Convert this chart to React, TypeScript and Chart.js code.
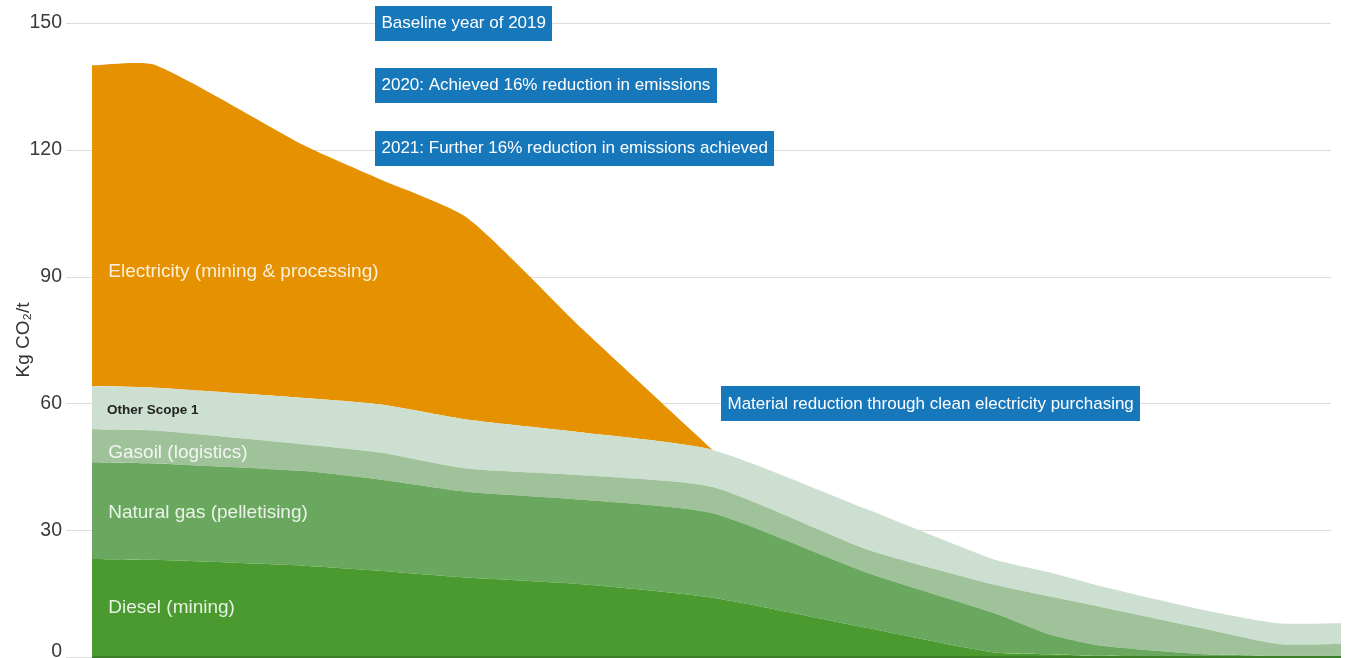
import { useEffect, useRef } from 'react';
import { Chart, registerables } from 'chart.js';

Chart.register(...registerables);

// Timeline positions (0 = 2019 baseline, 100 = end of pathway)
const timeline = [0, 5, 17, 23, 30, 39.3, 49.7, 62, 72.1, 76.7, 80.7, 88.7, 94.9, 100];

// Stacked emission components, Kg CO2/t
const diesel = [23.2, 23.0, 21.6, 20.4, 18.8, 17.2, 14.0, 6.9, 1.1, 0.6, 0.3, 0, 0, 0];
const naturalGas = [22.9, 22.8, 22.4, 21.6, 20.3, 20.0, 20.0, 13.1, 9.4, 4.7, 2.4, 0.7, 0.3, 0.3];
const gasoil = [7.8, 7.8, 6.3, 6.4, 5.5, 5.8, 6.2, 5.5, 6.7, 9.0, 9.2, 6.2, 2.8, 2.8];
const otherScope1 = [10.2, 10.1, 11.0, 11.4, 11.6, 10.1, 8.8, 9.5, 6.0, 5.7, 4.9, 4.4, 4.9, 4.9];
const electricity = [75.9, 76.4, 59.7, 53.3, 47.8, 24.4, 0, null, null, null, null, null, null, null];

const seriesNames = ['Diesel (mining)', 'Natural gas (pelletising)', 'Gasoil (logistics)', 'Other Scope 1', 'Electricity (mining & processing)'];
const seriesColors = ['#4a9a30', '#6aa85f', '#a0c29a', '#cddfd0', '#e69100'];

// In-chart series labels (timeline x, value y)
const seriesLabelX = [1.3, 1.3, 1.3, 1.2, 1.3];
const seriesLabelY = [12.1, 34.4, 48.6, 58.7, 91.4];

const yTicks = [0, 30, 60, 90, 120, 150];

// Annotation notes (timeline x of left edge, value y of centre)
const noteTexts = [
  'Baseline year of 2019',
  '2020: Achieved 16% reduction in emissions',
  '2021: Further 16% reduction in emissions achieved',
  'Material reduction through clean electricity purchasing',
];
const noteX = [22.66, 22.66, 22.66, 50.36];
const noteY = [150, 135.3, 120.4, 60];

const FONT = '"Liberation Sans", Arial, Helvetica, sans-serif';

export default function App() {
  const ref = useRef<HTMLCanvasElement | null>(null);

  useEffect(() => {
    if (!ref.current) return;
    const xMin = -(26 / 1249) * 100;

    const overlay = {
      id: 'overlay',
      beforeDatasetsDraw(chart: any) {
        const { ctx, chartArea, scales } = chart;
        const y = scales.y;
        ctx.save();
        ctx.strokeStyle = '#dcdcdc';
        ctx.lineWidth = 1;
        yTicks.forEach((v) => {
          const py = Math.round(y.getPixelForValue(v)) + 0.5;
          ctx.beginPath();
          ctx.moveTo(chartArea.left, py);
          ctx.lineTo(chartArea.right - 10, py);
          ctx.stroke();
        });
        ctx.restore();
      },
      afterDatasetsDraw(chart: any) {
        const { ctx, scales } = chart;
        const x = scales.x;
        const y = scales.y;
        ctx.save();
        // baseline
        ctx.strokeStyle = '#3c7f2b';
        ctx.lineWidth = 2;
        ctx.beginPath();
        ctx.moveTo(x.getPixelForValue(timeline[0]), y.getPixelForValue(0));
        ctx.lineTo(x.getPixelForValue(timeline[timeline.length - 1]), y.getPixelForValue(0));
        ctx.stroke();

        // series labels
        ctx.textBaseline = 'middle';
        ctx.textAlign = 'left';
        seriesNames.forEach((name, i) => {
          if (i === 3) {
            ctx.font = `bold 13.5px ${FONT}`;
            ctx.fillStyle = '#222';
          } else {
            ctx.font = `19px ${FONT}`;
            ctx.fillStyle = 'rgba(255,255,255,0.86)';
          }
          ctx.fillText(name, x.getPixelForValue(seriesLabelX[i]), y.getPixelForValue(seriesLabelY[i]) + 1.5);
        });

        // notes
        ctx.font = `17px ${FONT}`;
        noteTexts.forEach((t, i) => {
          const left = Math.round(x.getPixelForValue(noteX[i]));
          const cy = y.getPixelForValue(noteY[i]);
          const w = Math.round(ctx.measureText(t).width + 13);
          const h = 35;
          ctx.fillStyle = '#1777bb';
          ctx.fillRect(left, Math.round(cy - h / 2), w, h);
          ctx.fillStyle = '#ffffff';
          ctx.fillText(t, left + 6.5, cy + 0.5);
        });

        // zero tick label (kept inside the frame)
        ctx.font = `19.5px ${FONT}`;
        ctx.fillStyle = '#3a3a3a';
        ctx.textAlign = 'right';
        ctx.fillText('0', 62, y.getPixelForValue(0) - 5);
        ctx.restore();
      },
    };

    const series = [diesel, naturalGas, gasoil, otherScope1, electricity];
    const chart = new Chart(ref.current, {
      type: 'line',
      data: {
        datasets: series.map((vals, i) => ({
          label: seriesNames[i],
          data: timeline.map((t, j) => ({ x: t, y: vals[j] as any })),
          backgroundColor: seriesColors[i],
          borderColor: seriesColors[i],
          borderWidth: 0,
          pointRadius: 0,
          fill: i === 0 ? 'origin' : '-1',
          tension: 0.2,
          spanGaps: false,
        })),
      },
      options: {
        animation: false,
        responsive: true,
        maintainAspectRatio: false,
        layout: { padding: { top: 23, bottom: 1, left: 0, right: 10 } },
        plugins: { legend: { display: false }, tooltip: { enabled: false } },
        scales: {
          x: { type: 'linear', min: xMin, max: 100, display: false },
          y: {
            stacked: true,
            min: 0,
            max: 150,
            ticks: {
              stepSize: 30,
              padding: 4,
              color: '#3a3a3a',
              font: { family: FONT, size: 19.5 },
              callback: (v: any) => (Number(v) === 0 ? '' : String(v)),
            },
            grid: { display: false, drawTicks: false },
            border: { display: false },
            title: {
              display: true,
              text: 'Kg CO₂/t',
              color: '#333',
              font: { family: FONT, size: 19 },
              padding: { top: 12, bottom: 0 },
            },
            afterFit(scale: any) {
              scale.width = 66;
              scale.paddingTop = 0;
              scale.paddingBottom = 0;
            },
          },
        },
      },
      plugins: [overlay],
    } as any);
    return () => chart.destroy();
  }, []);

  return (
    <div style={{ position: 'absolute', left: 0, top: 0, width: 1351, height: 658, background: '#fff' }}>
      <canvas ref={ref} />
    </div>
  );
}
